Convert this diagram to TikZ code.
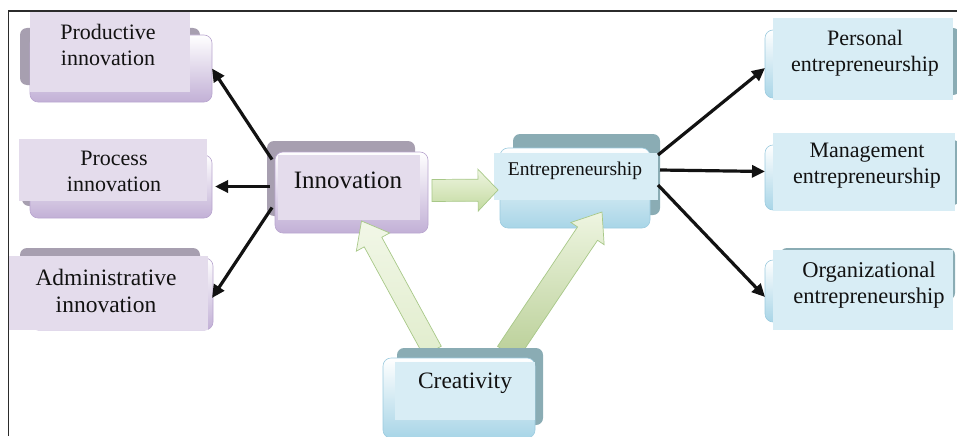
\documentclass[tikz,border=0pt]{standalone}
\usepackage{fontspec}
\setmainfont{Liberation Serif}
\usetikzlibrary{arrows.meta,calc}

\definecolor{pface}{HTML}{E4DCEC}
\definecolor{pmidc}{HTML}{C2B0D6}
\definecolor{pedge}{HTML}{B9A6CF}
\definecolor{pdark}{HTML}{A79FB0}
\definecolor{bface}{HTML}{D8EDF5}
\definecolor{bmidc}{HTML}{A8D5E7}
\definecolor{bedge}{HTML}{9CCBDF}
\definecolor{bdark}{HTML}{8AACB4}
\definecolor{gedge}{HTML}{A8C888}
\definecolor{glight}{HTML}{EEF5E1}
\definecolor{gdark}{HTML}{C3DA9F}
\definecolor{ink}{HTML}{121212}
\definecolor{framec}{HTML}{2B2B2B}

% green block arrow: [extra style] tail, tip, shaft half-width, head half-width, head length
\newcommand\gblockarrow[6][]{%
  \path (#2) coordinate (ba-t) (#3) coordinate (ba-h);
  \path ($(ba-h)!#6!(ba-t)$) coordinate (ba-b);
  \draw[garrow,#1]
    ($(ba-t)!#4!90:(ba-h)$) -- ($(ba-b)!#4!90:(ba-h)$) --
    ($(ba-b)!#5!90:(ba-h)$) -- (ba-h) --
    ($(ba-b)!#5!-90:(ba-h)$) -- ($(ba-b)!#4!-90:(ba-h)$) --
    ($(ba-t)!#4!-90:(ba-h)$) -- cycle;
}

\begin{document}
\begin{tikzpicture}[x=1pt,y=-1pt,
  pback/.style={fill=pdark, rounded corners=7pt},
  pmid/.style={draw=pedge, line width=0.6pt, rounded corners=8pt,
    top color=white, bottom color=pmidc, inner sep=0pt, outer sep=0pt},
  pface/.style={fill=pface},
  bback/.style={fill=bdark, rounded corners=7pt},
  bmid/.style={draw=bedge, line width=0.6pt, rounded corners=8pt,
    top color=white, bottom color=bmidc, inner sep=0pt, outer sep=0pt},
  bface/.style={fill=bface},
  txt/.style={align=center, text=ink, inner sep=0pt},
  link/.style={line width=3.2pt, ink, -{Triangle[length=13pt,width=12pt]}},
  garrow/.style={draw=gedge, line width=0.7pt, top color=glight, bottom color=gdark},
]
\useasboundingbox (0,0) rectangle (957,436);

% ---- innovation types (left column)
\fill[pback] (20,28) rectangle (200,85);
\node[pmid, minimum width=182, minimum height=67] (prodbox) at (121,68.5) {};
\fill[pface] (30,11) rectangle (190,92);
\node[txt, font=\fontsize{22}{26}\selectfont] (prod) at (108,45) {Productive\\innovation};

\fill[pback] (22,142) rectangle (200,206);
\node[pmid, minimum width=182, minimum height=63] (procbox) at (121,186.5) {};
\fill[pface] (19,139) rectangle (207,201);
\node[txt, font=\fontsize{22}{26}\selectfont] (proc) at (114,171) {Process\\innovation};

\fill[pback] (20,248) rectangle (200,300);
\node[pmid, minimum width=183, minimum height=72] (admbox) at (121.5,294) {};
\fill[pface] (9,256) rectangle (208,330);
\node[txt, font=\fontsize{23.5}{27}\selectfont] (adm) at (106,291) {Administrative\\innovation};

% ---- innovation
\fill[pback] (267,141) rectangle (415,216);
\node[pmid, minimum width=153, minimum height=81] (innbox) at (351.5,192.5) {};
\fill[pface] (278,155) rectangle (420,220);
\node[txt, font=\fontsize{25}{30}\selectfont] (inn) at (348,180) {Innovation};

% ---- entrepreneurship
\fill[bback] (513,134) rectangle (660,215);
\node[bmid, minimum width=150, minimum height=80] (entbox) at (575,188) {};
\fill[bface] (494,153) rectangle (658,200);
\node[txt, font=\fontsize{19.5}{23}\selectfont] (ent) at (575,171) {Entrepreneurship};

% ---- entrepreneurship types (right column)
\fill[bback] (780,28) rectangle (960,95);
\node[bmid, minimum width=185, minimum height=68] (persbox) at (857.5,64) {};
\fill[bface] (773,18) rectangle (953,100);
\node[txt, font=\fontsize{22}{26}\selectfont] (pers) at (865,53) {Personal\\entrepreneurship};

\fill[bback] (780,140) rectangle (960,205);
\node[bmid, minimum width=185, minimum height=65] (mgmtbox) at (857.5,177.5) {};
\fill[bface] (773,133) rectangle (955,211);
\node[txt, font=\fontsize{22}{26}\selectfont] (mgmt) at (867,166) {Management\\entrepreneurship};

\fill[bback] (780,248) rectangle (955,300);
\node[bmid, minimum width=185, minimum height=62] (orgbox) at (857.5,291) {};
\fill[bface] (773,250) rectangle (953,330);
\node[txt, font=\fontsize{22.5}{26}\selectfont] (org) at (869,285) {Organizational\\entrepreneurship};

% ---- block arrows into the two central ideas
\gblockarrow{$(innbox.east)+(4,-2)$}{$(entbox.west)+(-2,2)$}{11pt}{21pt}{20pt}
\gblockarrow[top color=glight!80!white, bottom color=glight!70!gdark]%
  {$(innbox.south)+(81,118)$}{$(innbox.south)+(10,-12)$}{10pt}{19pt}{24pt}
\gblockarrow[top color=glight, bottom color=gdark!95!black]%
  {$(innbox.south)+(156,120)$}{$(entbox.south)+(27,-16)$}{12pt}{20pt}{26pt}

% ---- creativity
\fill[bback] (397,348) rectangle (543,425);
\node[bmid, minimum width=152, minimum height=80] (crebox) at (459,398) {};
\fill[bface] (395,362) rectangle (535,420);
\node[txt, font=\fontsize{23.5}{27}\selectfont] (cre) at (465,383) {Creativity};

% ---- links from innovation and entrepreneurship to their types
\draw[link] ($(innbox.west)+(-3,-33)$) -- (prodbox.east);
\draw[link] ($(innbox.west)+(-5,-6)$) -- ($(procbox.east)+(3,0)$);
\draw[link] ($(innbox.west)+(-3,15)$) -- ($(admbox.east)+(-1,4)$);
\draw[link] ($(entbox.east)+(8,-33)$) -- ($(persbox.west)+(0,4)$);
\draw[link] ($(entbox.east)+(10,-18)$) -- ($(mgmtbox.west)+(0,-6)$);
\draw[link] ($(entbox.east)+(8,-3)$) -- ($(orgbox.west)+(0,6)$);

% ---- frame
\draw[line width=1.3pt, framec] (8.5,436) -- (8.5,11) -- (957,11);
\end{tikzpicture}
\end{document}
